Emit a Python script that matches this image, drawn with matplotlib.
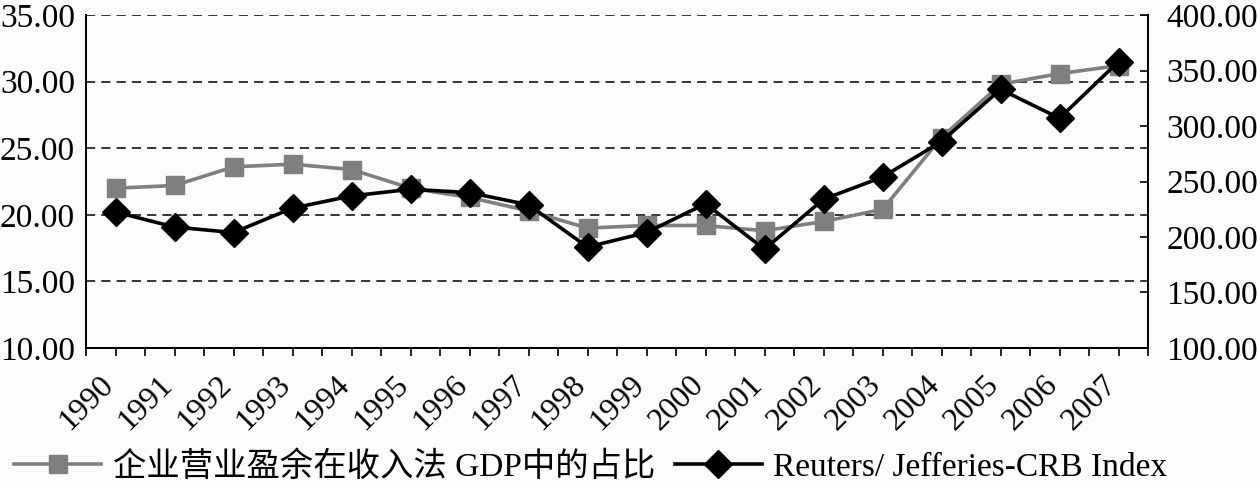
"""
Corporate operating surplus share of GDP vs. Reuters/Jefferies-CRB Index, 1990-2007.
"""
import matplotlib
matplotlib.use('Agg')
import matplotlib.pyplot as plt
from matplotlib.ticker import FixedLocator, FormatStrFormatter
from matplotlib.transforms import ScaledTranslation

# data
years = ['1990', '1991', '1992', '1993', '1994', '1995', '1996', '1997', '1998',
         '1999', '2000', '2001', '2002', '2003', '2004', '2005', '2006', '2007']
surplus_share = [22.0, 22.2, 23.6, 23.8, 23.4, 22.0, 21.3, 20.3, 19.0,
                 19.2, 19.2, 18.8, 19.5, 20.4, 25.8, 29.8, 30.6, 31.2]
crb_index = [222.5, 209, 204, 226, 237, 243, 240, 229, 191,
             204, 230, 189, 234, 254, 286, 333, 307, 358]

series_labels = ['企业营业盈余在收入法 GDP中的占比', 'Reuters/ Jefferies-CRB Index']
left_ticks = [10, 15, 20, 25, 30, 35]
right_ticks = [100, 150, 200, 250, 300, 350, 400]

bg = '#fbfbfb'
gray = '#7f7f7f'
serif = ['Liberation Serif', 'Noto Sans CJK SC']
plt.rcParams['font.family'] = serif

fig = plt.figure(figsize=(12.57, 4.88), dpi=100, facecolor=bg)
ax = fig.add_axes([86 / 1257, 1 - 348 / 488, (1148 - 86) / 1257, 333 / 488])
ax.set_facecolor(bg)

x = list(range(len(years)))

# left axis: gray squares
ln1, = ax.plot(x, surplus_share, '-s', color=gray, linewidth=2.6,
               markersize=12.5, markerfacecolor=gray, markeredgecolor=gray,
               zorder=3)
ax.set_ylim(10, 35)
ax.set_xlim(-0.5, len(years) - 0.5)
ax.yaxis.set_major_locator(FixedLocator(left_ticks))
ax.yaxis.set_major_formatter(FormatStrFormatter('%.2f'))
ax.tick_params(axis='y', length=0, pad=8, labelsize=24)
ax.grid(axis='y', color='black', linestyle=(0, (6, 4)), linewidth=1.1)
ax.set_axisbelow(True)

ax.set_xticks(x)
ax.set_xticklabels(years, rotation=45, ha='right', va='top', fontsize=23)
ax.set_xticks([i - 0.5 for i in range(len(years) + 1)], minor=True)
ax.tick_params(axis='x', which='both', direction='out', length=6, width=1.2,
               pad=10)
shift = ScaledTranslation(3 / 72, 0, fig.dpi_scale_trans)
for lab in ax.get_xticklabels():
    lab.set_transform(lab.get_transform() + shift)

# right axis: black diamonds
ax2 = ax.twinx()
ln2, = ax2.plot(x, crb_index, '-D', color='black', linewidth=2.6,
                markersize=14, zorder=4)
ax2.set_ylim(100, 400)
ax2.yaxis.set_major_locator(FixedLocator(right_ticks))
ax2.yaxis.set_major_formatter(FormatStrFormatter('%.2f'))
ax2.tick_params(axis='y', direction='in', length=6, width=1.2, pad=13,
                labelsize=24)

for a in (ax, ax2):
    a.spines['top'].set_visible(False)
    a.spines['left'].set_linewidth(1.3)
    a.spines['right'].set_linewidth(1.3)
    a.spines['bottom'].set_linewidth(1.3)

fig.legend([ln1, ln2], series_labels, loc='center',
           bbox_to_anchor=(0.47, 0.043), ncol=2, frameon=False,
           fontsize=24, handlelength=2.6, handletextpad=0.35,
           columnspacing=0.6, borderaxespad=0)

plt.savefig('out.png', dpi=100, facecolor=bg)
